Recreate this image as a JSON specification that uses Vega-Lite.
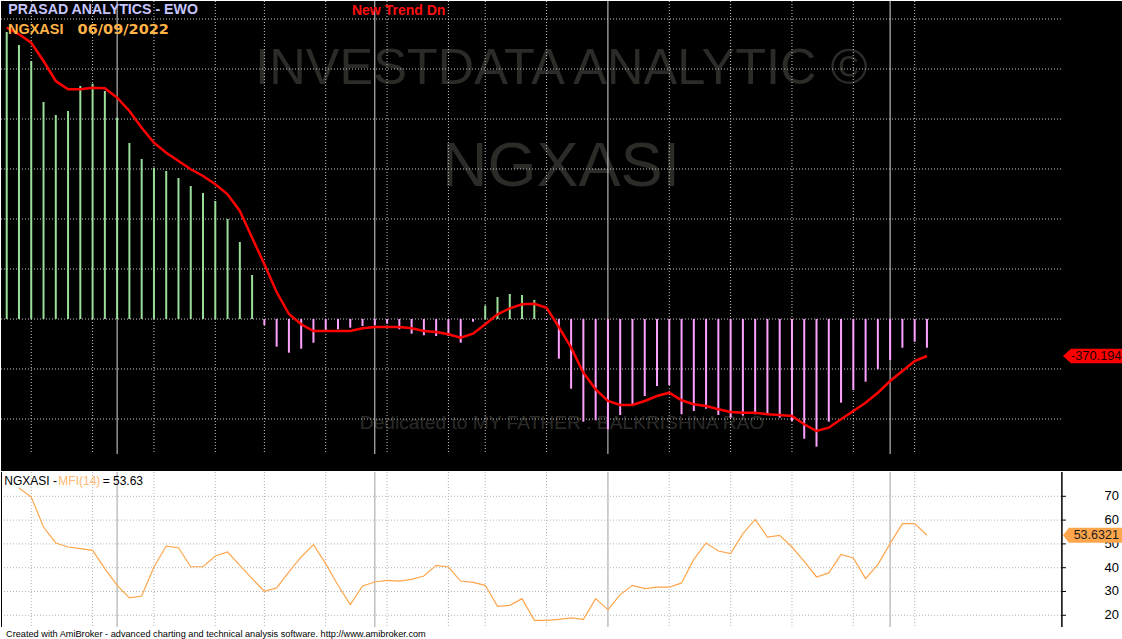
{
 "$schema": "https://vega.github.io/schema/vega-lite/v6.json",
 "padding": 0,
 "background": "white",
 "spacing": 0,
 "config": {"view": {"stroke": null}, "font": "Liberation Sans", "concat": {"spacing": 0}},
 "datasets": {
  "ewo": [
   {"i":0,"ewo":2870,"ma":2913},{"i":1,"ewo":2740,"ma":2847},{"i":2,"ewo":2580,"ma":2763},{"i":3,"ewo":2170,"ma":2580},
   {"i":4,"ewo":2040,"ma":2380},{"i":5,"ewo":2080,"ma":2297},{"i":6,"ewo":2330,"ma":2297},{"i":7,"ewo":2353,"ma":2313},
   {"i":8,"ewo":2280,"ma":2307},{"i":9,"ewo":2013,"ma":2213},{"i":10,"ewo":1760,"ma":2080},{"i":11,"ewo":1600,"ma":1913},
   {"i":12,"ewo":1513,"ma":1763},{"i":13,"ewo":1480,"ma":1663},{"i":14,"ewo":1410,"ma":1580},{"i":15,"ewo":1330,"ma":1497},
   {"i":16,"ewo":1260,"ma":1430},{"i":17,"ewo":1180,"ma":1347},{"i":18,"ewo":1000,"ma":1247},{"i":19,"ewo":770,"ma":1080},
   {"i":20,"ewo":440,"ma":813},{"i":21,"ewo":-60,"ma":547},{"i":22,"ewo":-277,"ma":270},{"i":23,"ewo":-337,"ma":50},
   {"i":24,"ewo":-297,"ma":-53},{"i":25,"ewo":-237,"ma":-120},{"i":26,"ewo":-120,"ma":-120},{"i":27,"ewo":-103,"ma":-120},
   {"i":28,"ewo":-87,"ma":-120},{"i":29,"ewo":-70,"ma":-93},{"i":30,"ewo":-60,"ma":-80},{"i":31,"ewo":-47,"ma":-80},
   {"i":32,"ewo":-103,"ma":-80},{"i":33,"ewo":-147,"ma":-93},{"i":34,"ewo":-163,"ma":-120},{"i":35,"ewo":-170,"ma":-130},
   {"i":36,"ewo":-170,"ma":-153},{"i":37,"ewo":-237,"ma":-187},{"i":38,"ewo":-27,"ma":-147},{"i":39,"ewo":135,"ma":-53},
   {"i":40,"ewo":220,"ma":47},{"i":41,"ewo":250,"ma":107},{"i":42,"ewo":240,"ma":147},{"i":43,"ewo":190,"ma":153},
   {"i":44,"ewo":-10,"ma":113},{"i":45,"ewo":-397,"ma":-80},{"i":46,"ewo":-697,"ma":-287},{"i":47,"ewo":-1027,"ma":-537},
   {"i":48,"ewo":-1013,"ma":-703},{"i":49,"ewo":-1103,"ma":-820},{"i":50,"ewo":-960,"ma":-860},{"i":51,"ewo":-853,"ma":-860},
   {"i":52,"ewo":-770,"ma":-820},{"i":53,"ewo":-670,"ma":-770},{"i":54,"ewo":-660,"ma":-737},{"i":55,"ewo":-953,"ma":-813},
   {"i":56,"ewo":-920,"ma":-853},{"i":57,"ewo":-897,"ma":-870},{"i":58,"ewo":-960,"ma":-903},{"i":59,"ewo":-987,"ma":-930},
   {"i":60,"ewo":-967,"ma":-937},{"i":61,"ewo":-953,"ma":-937},{"i":62,"ewo":-953,"ma":-953},{"i":63,"ewo":-987,"ma":-960},
   {"i":64,"ewo":-1020,"ma":-970},{"i":65,"ewo":-1197,"ma":-1053},{"i":66,"ewo":-1277,"ma":-1120},{"i":67,"ewo":-1027,"ma":-1087},
   {"i":68,"ewo":-837,"ma":-1003},{"i":69,"ewo":-710,"ma":-920},{"i":70,"ewo":-627,"ma":-837},{"i":71,"ewo":-503,"ma":-737},
   {"i":72,"ewo":-410,"ma":-620},{"i":73,"ewo":-287,"ma":-520},{"i":74,"ewo":-227,"ma":-420},{"i":75,"ewo":-287,"ma":-370.194}
  ],
  "mfi": [
   {"i":1,"m":73.5},{"i":2,"m":69.7},{"i":3,"m":57.1},{"i":4,"m":50.4},{"i":5,"m":48.7},{"i":6,"m":48.0},{"i":7,"m":47.3},
   {"i":8,"m":39.6},{"i":9,"m":32.6},{"i":10,"m":27.3},{"i":11,"m":28.1},{"i":12,"m":40.3},{"i":13,"m":49.1},{"i":14,"m":48.4},
   {"i":15,"m":40.4},{"i":16,"m":40.4},{"i":17,"m":44.9},{"i":18,"m":46.6},{"i":19,"m":41.0},{"i":20,"m":35.4},{"i":21,"m":30.1},
   {"i":22,"m":31.5},{"i":23,"m":38.2},{"i":24,"m":44.5},{"i":25,"m":49.7},{"i":26,"m":41.7},{"i":27,"m":32.6},{"i":28,"m":24.5},
   {"i":29,"m":32.3},{"i":30,"m":34.0},{"i":31,"m":34.7},{"i":32,"m":34.4},{"i":33,"m":35.1},{"i":34,"m":36.5},{"i":35,"m":41.0},
   {"i":36,"m":40.3},{"i":37,"m":34.4},{"i":38,"m":33.8},{"i":39,"m":32.6},{"i":40,"m":23.8},{"i":41,"m":24.2},{"i":42,"m":27.0},
   {"i":43,"m":17.9},{"i":44,"m":17.9},{"i":45,"m":18.3},{"i":46,"m":18.9},{"i":47,"m":18.3},{"i":48,"m":27.0},{"i":49,"m":22.4},
   {"i":50,"m":28.7},{"i":51,"m":32.6},{"i":52,"m":31.2},{"i":53,"m":31.8},{"i":54,"m":31.8},{"i":55,"m":33.6},{"i":56,"m":43.5},
   {"i":57,"m":50.4},{"i":58,"m":47.0},{"i":59,"m":45.9},{"i":60,"m":54.3},{"i":61,"m":60.3},{"i":62,"m":52.9},{"i":63,"m":53.6},
   {"i":64,"m":48.7},{"i":65,"m":42.7},{"i":66,"m":36.1},{"i":67,"m":37.8},{"i":68,"m":45.6},{"i":69,"m":44.1},{"i":70,"m":35.4},
   {"i":71,"m":41.3},{"i":72,"m":50.1},{"i":73,"m":58.5},{"i":74,"m":58.5},{"i":75,"m":53.6321}
  ],
  "gridTop": [{"v":-1000},{"v":-500},{"v":0},{"v":500},{"v":1000},{"v":1500},{"v":2000},{"v":2500},{"v":3000}],
  "gridBot": [{"v":20},{"v":30},{"v":40},{"v":50},{"v":60},{"v":70}],
  "weeks": [{"i":2},{"i":7},{"i":12},{"i":17},{"i":21},{"i":26},{"i":31},{"i":36},{"i":39},{"i":44},{"i":54},{"i":59},{"i":64},{"i":69},{"i":74}],
  "months": [{"i":9},{"i":30},{"i":49},{"i":72}],
  "one": [{}]
 },
 "vconcat": [
  {
   "width": 1122, "height": 470,
   "view": {"fill": "black", "stroke": null},
   "layer": [
    {"data": {"name": "one"},
     "mark": {"type": "text", "text": "INVESTDATA ANALYTIC ©", "fontSize": 50.5, "color": "#2b2b28", "align": "center", "baseline": "alphabetic"},
     "encoding": {
      "x": {"datum": 45.22, "type": "quantitative", "scale": {"domain": [-0.465, 90.98], "nice": false, "zero": false}, "axis": null},
      "y": {"datum": 2347, "type": "quantitative", "scale": {"domain": [-1520, 3180], "nice": false, "zero": false}, "axis": null}}},
    {"data": {"name": "one"},
     "mark": {"type": "text", "text": "NGXASI", "fontSize": 63, "color": "#2b2b28", "align": "center", "baseline": "alphabetic"},
     "encoding": {"x": {"datum": 45.18, "type": "quantitative", "axis": null}, "y": {"datum": 1330, "type": "quantitative", "axis": null}}},
    {"data": {"name": "one"},
     "mark": {"type": "text", "text": "Dedicated to MY FATHER : BALKRISHNA RAO", "fontSize": 19.2, "color": "#2b2b28", "align": "center", "baseline": "alphabetic"},
     "encoding": {"x": {"datum": 45.26, "type": "quantitative", "axis": null}, "y": {"datum": -1103, "type": "quantitative", "axis": null}}},
    {"data": {"name": "gridTop"},
     "mark": {"type": "rule", "color": "#c8c8c8", "strokeWidth": 1, "strokeDash": [1, 2]},
     "encoding": {"y": {"field": "v", "type": "quantitative", "axis": null}, "x": {"datum": -0.465, "type": "quantitative", "axis": null}, "x2": {"datum": 86.0}}},
    {"data": {"name": "weeks"},
     "mark": {"type": "rule", "color": "#c8c8c8", "strokeWidth": 1, "strokeDash": [1, 2]},
     "encoding": {"x": {"field": "i", "type": "quantitative", "axis": null}, "y": {"datum": 3180, "type": "quantitative", "axis": null}, "y2": {"datum": -1350}}},
    {"data": {"name": "months"},
     "mark": {"type": "rule", "color": "#d8d8d8", "strokeWidth": 1},
     "encoding": {"x": {"field": "i", "type": "quantitative", "axis": null}, "y": {"datum": 3180, "type": "quantitative", "axis": null}, "y2": {"datum": -1350}}},
    {"data": {"name": "ewo"},
     "mark": {"type": "rule", "strokeWidth": 2},
     "encoding": {
      "x": {"field": "i", "type": "quantitative", "axis": null},
      "y": {"field": "ewo", "type": "quantitative", "axis": null},
      "y2": {"datum": 0},
      "color": {"condition": {"test": "datum.ewo >= 0", "value": "#9ade9a"}, "value": "#ffa2ff"}}},
    {"data": {"name": "ewo"},
     "mark": {"type": "line", "color": "#ff0000", "strokeWidth": 2.5},
     "encoding": {"x": {"field": "i", "type": "quantitative", "axis": null}, "y": {"field": "ma", "type": "quantitative", "axis": null}}},
    {"data": {"name": "one"},
     "mark": {"type": "text", "text": "PRASAD ANALYTICS - EWO", "fontSize": 14.2, "fontWeight": "bold", "color": "#c6c6ff", "align": "left", "baseline": "middle"},
     "encoding": {"x": {"datum": 0.13, "type": "quantitative", "axis": null}, "y": {"datum": 3093, "type": "quantitative", "axis": null}}},
    {"data": {"name": "one"},
     "mark": {"type": "text", "text": "NGXASI", "fontSize": 14.5, "fontWeight": "bold", "color": "#ffb347", "align": "left", "baseline": "middle"},
     "encoding": {"x": {"datum": 0.1, "type": "quantitative", "axis": null}, "y": {"datum": 2893, "type": "quantitative", "axis": null}}},
    {"data": {"name": "one"},
     "mark": {"type": "text", "text": "06/09/2022", "fontSize": 14.5, "fontWeight": "bold", "font": "DejaVu Sans", "color": "#ffb347", "align": "left", "baseline": "middle"},
     "encoding": {"x": {"datum": 5.78, "type": "quantitative", "axis": null}, "y": {"datum": 2893, "type": "quantitative", "axis": null}}},
    {"data": {"name": "one"},
     "mark": {"type": "text", "text": "New Trend Dn", "fontSize": 14, "fontWeight": "bold", "color": "#ff1010", "align": "left", "baseline": "middle"},
     "encoding": {"x": {"datum": 28.14, "type": "quantitative", "axis": null}, "y": {"datum": 3080, "type": "quantitative", "axis": null}}},
    {"data": {"name": "one"},
     "mark": {"type": "point", "shape": "M-1,0L-0.733,-0.24L1,-0.24L1,0.24L-0.733,0.24Z", "size": 3600, "filled": true, "color": "#ff0000", "opacity": 1, "strokeWidth": 0},
     "encoding": {"x": {"datum": 88.53, "type": "quantitative", "axis": null}, "y": {"datum": -370.194, "type": "quantitative", "axis": null}}},
    {"data": {"name": "one"},
     "mark": {"type": "text", "text": "-370.194", "fontSize": 12.8, "color": "#1a0000", "align": "center", "baseline": "middle"},
     "encoding": {"x": {"datum": 88.8, "type": "quantitative", "axis": null}, "y": {"datum": -370.194, "type": "quantitative", "axis": null}}}
   ]
  },
  {
   "width": 1122, "height": 169,
   "view": {"fill": "white", "stroke": null},
   "layer": [
    {"data": {"name": "gridBot"},
     "mark": {"type": "rule", "color": "#b4b4b4", "strokeWidth": 1, "strokeDash": [1, 2]},
     "encoding": {
      "y": {"field": "v", "type": "quantitative", "scale": {"domain": [9.2, 80.21], "nice": false, "zero": false}, "axis": null},
      "x": {"datum": -0.465, "type": "quantitative", "scale": {"domain": [-0.465, 90.98], "nice": false, "zero": false}, "axis": null},
      "x2": {"datum": 86.0}}},
    {"data": {"name": "weeks"},
     "mark": {"type": "rule", "color": "#b4b4b4", "strokeWidth": 1, "strokeDash": [1, 2]},
     "encoding": {"x": {"field": "i", "type": "quantitative", "axis": null}, "y": {"datum": 80.21, "type": "quantitative", "axis": null}, "y2": {"datum": 15.08}}},
    {"data": {"name": "months"},
     "mark": {"type": "rule", "color": "#c0c0c0", "strokeWidth": 1.5},
     "encoding": {"x": {"field": "i", "type": "quantitative", "axis": null}, "y": {"datum": 80.21, "type": "quantitative", "axis": null}, "y2": {"datum": 15.08}}},
    {"data": {"name": "mfi"},
     "mark": {"type": "line", "color": "#ffa64d", "strokeWidth": 1.2},
     "encoding": {
      "x": {"field": "i", "type": "quantitative", "axis": null},
      "y": {"field": "m", "type": "quantitative", "axis": null}}},
    {"data": {"name": "one"},
     "mark": {"type": "rule", "color": "black", "strokeWidth": 1.5},
     "encoding": {"x": {"datum": 86.0, "type": "quantitative", "axis": null}, "y": {"datum": 80.21, "type": "quantitative", "axis": null}, "y2": {"datum": 15.08}}},
    {"data": {"name": "gridBot"},
     "mark": {"type": "rule", "color": "black", "strokeWidth": 1},
     "encoding": {"y": {"field": "v", "type": "quantitative", "axis": null}, "x": {"datum": 86.0, "type": "quantitative", "axis": null}, "x2": {"datum": 86.33}}},
    {"data": {"name": "gridBot"},
     "mark": {"type": "text", "fontSize": 13, "color": "black", "align": "right", "baseline": "middle"},
     "encoding": {"y": {"field": "v", "type": "quantitative", "axis": null}, "x": {"datum": 90.65, "type": "quantitative", "axis": null}, "text": {"field": "v", "type": "quantitative"}}},
    {"data": {"name": "one"},
     "mark": {"type": "rule", "color": "black", "strokeWidth": 1},
     "encoding": {"x": {"datum": -0.424, "type": "quantitative", "axis": null}, "y": {"datum": 80.21, "type": "quantitative", "axis": null}, "y2": {"datum": 15.08}}},
    {"data": {"name": "one"},
     "mark": {"type": "text", "text": "NGXASI -", "fontSize": 12, "color": "black", "align": "left", "baseline": "middle"},
     "encoding": {"x": {"datum": -0.196, "type": "quantitative", "axis": null}, "y": {"datum": 76.43, "type": "quantitative", "axis": null}}},
    {"data": {"name": "one"},
     "mark": {"type": "text", "text": "MFI(14)", "fontSize": 12, "color": "#ffb870", "align": "left", "baseline": "middle"},
     "encoding": {"x": {"datum": 4.21, "type": "quantitative", "axis": null}, "y": {"datum": 76.43, "type": "quantitative", "axis": null}}},
    {"data": {"name": "one"},
     "mark": {"type": "text", "text": "= 53.63", "fontSize": 12, "color": "black", "align": "left", "baseline": "middle"},
     "encoding": {"x": {"datum": 7.82, "type": "quantitative", "axis": null}, "y": {"datum": 76.43, "type": "quantitative", "axis": null}}},
    {"data": {"name": "one"},
     "mark": {"type": "text", "text": "Created with AmiBroker - advanced charting and technical analysis software. http://www.amibroker.com", "fontSize": 9.2, "color": "black", "align": "left", "baseline": "middle"},
     "encoding": {"x": {"datum": -0.057, "type": "quantitative", "axis": null}, "y": {"datum": 12.14, "type": "quantitative", "axis": null}}},
    {"data": {"name": "one"},
     "mark": {"type": "point", "shape": "M-1,0L-0.8,-0.25L1,-0.25L1,0.25L-0.8,0.25Z", "size": 3600, "filled": true, "color": "#ffa64d", "opacity": 1, "strokeWidth": 0},
     "encoding": {"x": {"datum": 88.53, "type": "quantitative", "axis": null}, "y": {"datum": 53.6321, "type": "quantitative", "axis": null}}},
    {"data": {"name": "one"},
     "mark": {"type": "text", "text": "53.6321", "fontSize": 12.5, "color": "#1a1a1a", "align": "center", "baseline": "middle"},
     "encoding": {"x": {"datum": 88.8, "type": "quantitative", "axis": null}, "y": {"datum": 53.6321, "type": "quantitative", "axis": null}}}
   ]
  }
 ]
}
